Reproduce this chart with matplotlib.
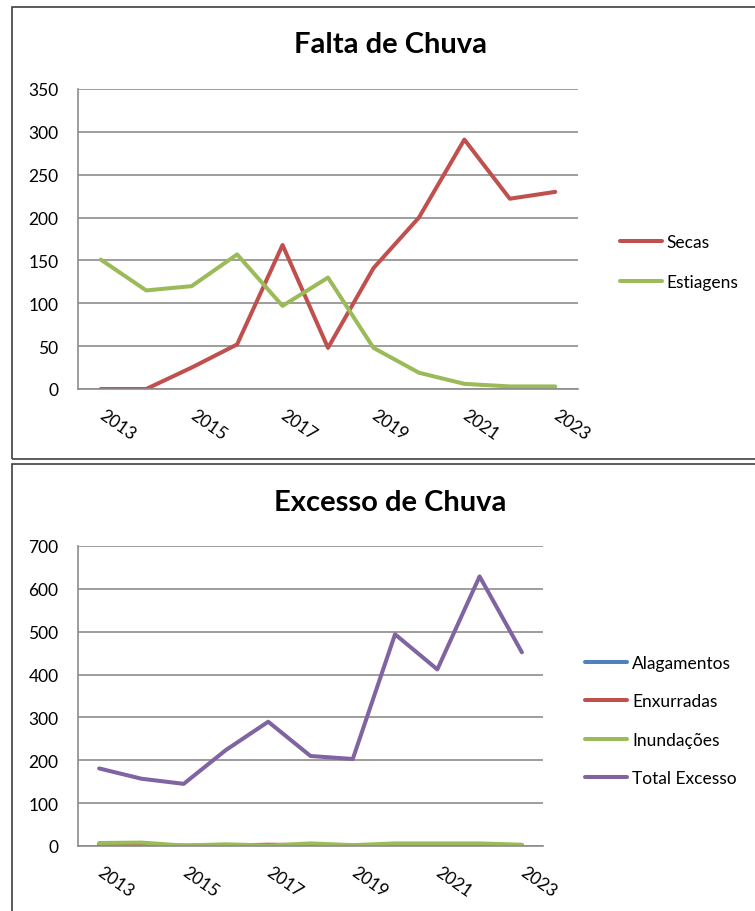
import numpy as np
import matplotlib
matplotlib.use("Agg")
import matplotlib.pyplot as plt
from matplotlib.patches import Rectangle

plt.rcParams["font.family"] = ["Lato", "DejaVu Sans"]

# --- data ---
years = list(range(2013, 2024))
year_labels = [str(y) if (y - 2013) % 2 == 0 else "" for y in years]

secas = [0, 0, 25, 52, 168, 48, 141, 200, 291, 222, 230]
estiagens = [151, 115, 120, 157, 97, 130, 48, 19, 6, 3, 3]

alagamentos = [1, 1, 0, 0, 0, 0, 0, 0, 0, 0, 1]
enxurradas = [3, 4, 1, 1, 3, 2, 1, 1, 1, 1, 2]
inundacoes = [7, 8, 1, 4, 1, 6, 2, 6, 6, 6, 3]
total_excesso = [181, 157, 145, 224, 290, 210, 203, 494, 412, 629, 452]

BLUE, RED, GREEN, PURPLE = "#4F81BD", "#C0504D", "#9BBB59", "#8064A2"
GRID = "#8c8c8c"

W, H = 755, 912
fig = plt.figure(figsize=(W / 100, H / 100), dpi=100)


def px_axes(left, top, right, bottom):
    return fig.add_axes([left / W, 1 - bottom / H, (right - left) / W, (bottom - top) / H])


def style_axes(ax, ymax, step):
    x = np.arange(len(years))
    ax.set_xlim(-0.5, len(years) - 0.5)
    ax.set_ylim(0, ymax)
    ax.set_yticks(np.arange(0, ymax + 1, step))
    ax.set_xticks(x)
    ax.set_xticklabels(year_labels, rotation=-35, ha="left", va="center",
                       rotation_mode="anchor", fontsize=12.5)
    ax.tick_params(axis="x", length=0, pad=17)
    ax.tick_params(axis="y", length=0, pad=14, labelsize=12.5)
    ax.grid(axis="y", color=GRID, linewidth=1.2)
    ax.set_axisbelow(True)
    for s in ["top", "right"]:
        ax.spines[s].set_visible(False)
    for s in ["left", "bottom"]:
        ax.spines[s].set_color(GRID)
        ax.spines[s].set_linewidth(1.2)


lw = 2.9

# top chart
ax1 = px_axes(78, 90, 578, 390)
x = np.arange(len(years))
ax1.plot(x, secas, color=RED, lw=lw, label="Secas", solid_capstyle="round")
ax1.plot(x, estiagens, color=GREEN, lw=lw, label="Estiagens", solid_capstyle="round")
style_axes(ax1, 350, 50)
fig.text(390 / W, 1 - 45 / H, "Falta de Chuva", ha="center", va="center",
         fontsize=21, fontweight="bold")
fig.legend(handles=ax1.get_lines(), loc="center left",
           bbox_to_anchor=(620 / W, 1 - 263 / H), frameon=False, fontsize=12.5,
           handlelength=2.4, handletextpad=0.3, labelspacing=1.35,
           borderpad=0, borderaxespad=0)

# bottom chart
ax2 = px_axes(78, 547, 543, 847)
ax2.plot(x, alagamentos, color=BLUE, lw=lw, label="Alagamentos", solid_capstyle="round")
ax2.plot(x, enxurradas, color=RED, lw=lw, label="Enxurradas", solid_capstyle="round")
ax2.plot(x, inundacoes, color=GREEN, lw=lw, label="Inundações", solid_capstyle="round")
ax2.plot(x, total_excesso, color=PURPLE, lw=lw, label="Total Excesso", solid_capstyle="round")
style_axes(ax2, 700, 100)
fig.text(390 / W, 1 - 503 / H, "Excesso de Chuva", ha="center", va="center",
         fontsize=21, fontweight="bold")
fig.legend(handles=ax2.get_lines(), loc="center left",
           bbox_to_anchor=(585 / W, 1 - 721.5 / H), frameon=False, fontsize=12.5,
           handlelength=2.4, handletextpad=0.3, labelspacing=1.3,
           borderpad=0, borderaxespad=0)

# chart frames
for top, bottom in [(8, 460), (465, 930)]:
    fig.patches.append(Rectangle((12 / W, 1 - bottom / H), 1.0, (bottom - top) / H,
                                 transform=fig.transFigure, fill=False,
                                 edgecolor="#404040", linewidth=1.2))

fig.savefig("out.png", dpi=100, facecolor="white")
